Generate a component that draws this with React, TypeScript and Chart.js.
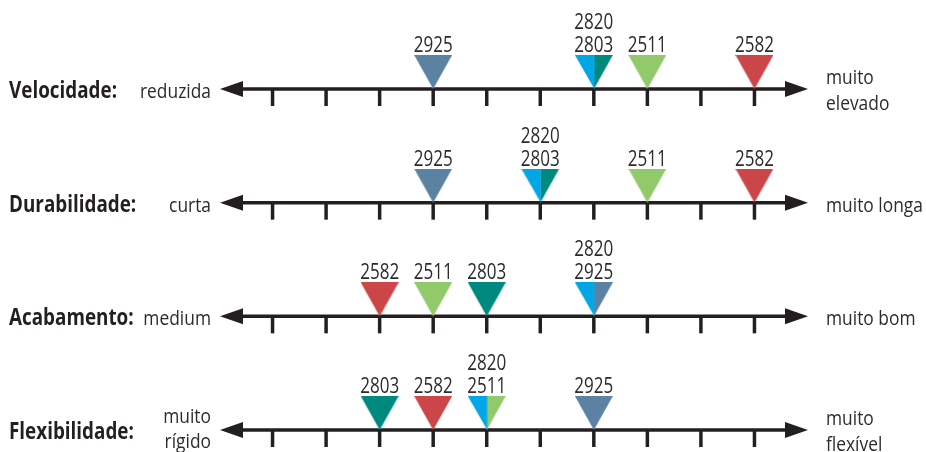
import React, { useEffect, useRef } from "react";
import { Chart, registerables } from "chart.js";

Chart.register(...registerables);

// ---- data ----
const rowNames = ["Velocidade:", "Durabilidade:", "Acabamento:", "Flexibilidade:"];
const lowLabels = [["reduzida"], ["curta"], ["medium"], ["muito", "rígido"]];
const highLabels = [["muito", "elevado"], ["muito longa"], ["muito bom"], ["muito", "flexível"]];
const tickValues = [1, 2, 3, 4, 5, 6, 7, 8, 9, 10];
const products = ["2820", "2925", "2803", "2511", "2582"];
const pos2820 = [7, 6, 7, 5];
const pos2925 = [4, 4, 7, 7];
const pos2803 = [7, 6, 5, 3];
const pos2511 = [8, 8, 4, 5];
const pos2582 = [10, 10, 3, 4];
const productColors = ["#00a6e6", "#5b82a3", "#00897f", "#92c96b", "#cc4549"];

const positions = [pos2820, pos2925, pos2803, pos2511, pos2582];

const TRI_W = 38;
const TRI_H = 34;
const LABEL_FONT = '21px "Open Sans", "Noto Sans", sans-serif';
const SIDE_FONT = '19.5px "Open Sans", "Noto Sans", sans-serif';
const BOLD_FONT = 'bold 23px "Open Sans", "Noto Sans", sans-serif';
const INK = "#231f20";

function makeTriangle(color: string, half: "full" | "left" | "right") {
  const c = document.createElement("canvas");
  c.width = TRI_W;
  c.height = TRI_H * 2;
  const g = c.getContext("2d")!;
  g.fillStyle = color;
  g.beginPath();
  if (half === "full") {
    g.moveTo(0, 0);
    g.lineTo(TRI_W, 0);
    g.lineTo(TRI_W / 2, TRI_H);
  } else if (half === "left") {
    g.moveTo(0, 0);
    g.lineTo(TRI_W / 2 + 0.5, 0);
    g.lineTo(TRI_W / 2 + 0.5, TRI_H);
  } else {
    g.moveTo(TRI_W / 2, 0);
    g.lineTo(TRI_W, 0);
    g.lineTo(TRI_W / 2, TRI_H);
  }
  g.closePath();
  g.fill();
  return c;
}

function sharedWith(pi: number, row: number) {
  const p = positions[pi][row];
  const others: number[] = [];
  positions.forEach((arr, j) => {
    if (j !== pi && arr[row] === p) others.push(j);
  });
  return others;
}

function scaledText(ctx: any, text: string, x: number, y: number, align: string, sx: number) {
  ctx.save();
  ctx.translate(x, y);
  ctx.scale(sx, 1);
  ctx.textAlign = align;
  ctx.textBaseline = "alphabetic";
  ctx.fillText(text, 0, 0);
  ctx.restore();
}

function fitScale(ctx: any, font: string, sample: string, target: number) {
  ctx.save();
  ctx.font = font;
  const w = ctx.measureText(sample).width;
  ctx.restore();
  return w > 0 ? target / w : 1;
}

const axesPlugin = {
  id: "axesPlugin",
  beforeDatasetsDraw(chart: any) {
    const { ctx, scales } = chart;
    const xs = scales.x;
    const ys = scales.y;
    const x0 = xs.getPixelForValue(0);
    const x1 = xs.getPixelForValue(11);
    const boldSx = fitScale(ctx, BOLD_FONT, "Velocidade:", 108);
    const sideSx = fitScale(ctx, SIDE_FONT, "reduzida", 71);
    ctx.save();
    rowNames.forEach((name, r) => {
      const ay = ys.getPixelForValue(r);
      ctx.strokeStyle = INK;
      ctx.fillStyle = INK;
      ctx.lineWidth = 3.5;
      ctx.beginPath();
      ctx.moveTo(x0 + 20, ay);
      ctx.lineTo(x1 - 20, ay);
      ctx.stroke();
      // arrows
      ctx.beginPath();
      ctx.moveTo(x0 + 1, ay);
      ctx.lineTo(x0 + 24, ay - 8);
      ctx.lineTo(x0 + 24, ay + 8);
      ctx.closePath();
      ctx.fill();
      ctx.beginPath();
      ctx.moveTo(x1, ay);
      ctx.lineTo(x1 - 23, ay - 8);
      ctx.lineTo(x1 - 23, ay + 8);
      ctx.closePath();
      ctx.fill();
      // ticks
      ctx.lineWidth = 3.5;
      tickValues.forEach((t) => {
        const tx = xs.getPixelForValue(t);
        ctx.beginPath();
        ctx.moveTo(tx, ay);
        ctx.lineTo(tx, ay + 17);
        ctx.stroke();
      });
      // row name
      ctx.font = BOLD_FONT;
      ctx.fillStyle = INK;
      scaledText(ctx, name, 9, ay + 9, "left", boldSx);
      // low / high labels
      ctx.font = SIDE_FONT;
      ctx.fillStyle = "#2b2b2b";
      const low = lowLabels[r];
      if (low.length === 1) scaledText(ctx, low[0], x0 - 8, ay + 9, "right", sideSx);
      else {
        scaledText(ctx, low[0], x0 - 8, ay - 7, "right", sideSx);
        scaledText(ctx, low[1], x0 - 8, ay + 18, "right", sideSx);
      }
      const high = highLabels[r];
      if (high.length === 1) scaledText(ctx, high[0], x1 + 18, ay + 9, "left", sideSx);
      else {
        scaledText(ctx, high[0], x1 + 18, ay - 5, "left", sideSx);
        scaledText(ctx, high[1], x1 + 18, ay + 21, "left", sideSx);
      }
    });
    ctx.restore();
  },
  afterDatasetsDraw(chart: any) {
    const { ctx, scales } = chart;
    const xs = scales.x;
    const ys = scales.y;
    const labSx = fitScale(ctx, LABEL_FONT, "2925", 39);
    ctx.save();
    ctx.font = LABEL_FONT;
    ctx.fillStyle = "#2b2b2b";
    rowNames.forEach((_, r) => {
      const ay = ys.getPixelForValue(r);
      const groups = new Map<number, string[]>();
      products.forEach((p, i) => {
        const v = positions[i][r];
        if (!groups.has(v)) groups.set(v, []);
        groups.get(v)!.push(p);
      });
      groups.forEach((names, v) => {
        const px = xs.getPixelForValue(v);
        const n = names.length;
        names.forEach((nm, k) => {
          scaledText(ctx, nm, px, ay - 37 - (n - 1 - k) * 23, "center", labSx);
        });
      });
    });
    ctx.restore();
  },
};

export default function App() {
  const ref = useRef<HTMLCanvasElement>(null);
  useEffect(() => {
    const datasets = products.map((p, i) => ({
      label: p,
      data: positions[i].map((x, r) => ({ x, y: r })),
      pointStyle: positions[i].map((_, r) => {
        const sh = sharedWith(i, r);
        if (sh.length === 0) return makeTriangle(productColors[i], "full");
        return makeTriangle(productColors[i], i === 0 ? "left" : "right");
      }),
      showLine: false,
      clip: false as any,
    }));
    const chart = new Chart(ref.current!, {
      type: "scatter",
      data: { datasets },
      options: {
        animation: false,
        responsive: false,
        events: [],
        layout: { padding: { left: 219, right: 118, top: 89, bottom: 22 } },
        plugins: { legend: { display: false }, tooltip: { enabled: false } },
        scales: {
          x: { type: "linear", min: 0, max: 11, display: false },
          y: { type: "linear", min: 0, max: 3, reverse: true, display: false },
        },
      },
      plugins: [axesPlugin],
    });
    return () => chart.destroy();
  }, []);
  return (
    <div style={{ position: "absolute", left: 0, top: 0, width: 926, height: 452, background: "#fff" }}>
      <canvas ref={ref} width={926} height={452} />
    </div>
  );
}
